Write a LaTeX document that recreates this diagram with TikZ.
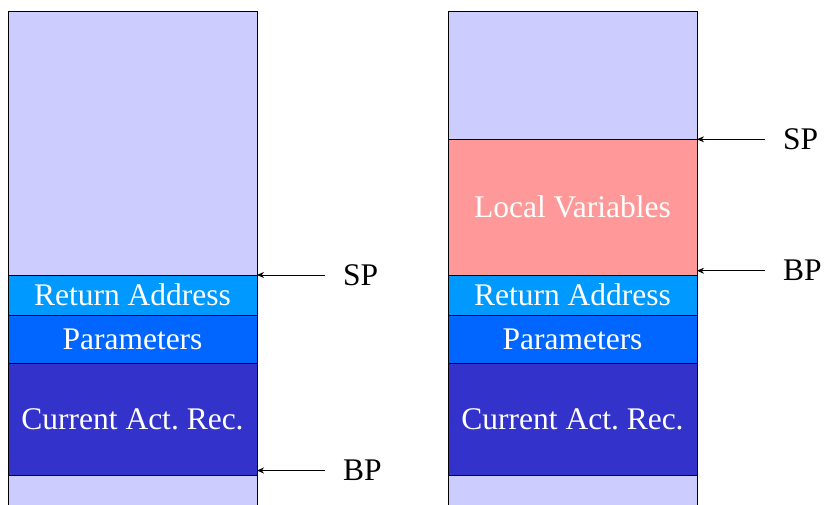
\documentclass[tikz,border=0pt]{standalone}
\usepackage{fontspec}
\setmainfont{Liberation Serif}
\usetikzlibrary{arrows.meta}
\definecolor{lav}{HTML}{CCCCFF}
\definecolor{rablue}{HTML}{0099FF}
\definecolor{parblue}{HTML}{0066FF}
\definecolor{carblue}{HTML}{3333CC}
\definecolor{lvred}{HTML}{FF9999}
\tikzset{
  cell/.style={draw=black, line width=0.8pt, anchor=north west, inner sep=0pt, outer sep=0pt,
    minimum width=249pt, text=white, font=\fontsize{31.5}{36}\selectfont},
  ptrlabel/.style={anchor=west, inner sep=0pt, font=\fontsize{31.5}{36}\selectfont},
  ptr/.style={line width=0.9pt, -{Stealth[length=7pt,width=6pt]}, shorten <=18pt}
}
\newcommand{\dn}[1]{\raisebox{-2.5pt}{#1}}
\begin{document}
\begin{tikzpicture}[x=1pt,y=-1pt]
\useasboundingbox (0,0) rectangle (826,504);
\clip (0,0) rectangle (826,504);
% left stack
\node[cell, fill=lav, minimum height=264pt] (free1) at (8,11) {};
\node[cell, fill=rablue, minimum height=40pt] (ra1) at (8,275) {\dn{Return Address}};
\node[cell, fill=parblue, minimum height=48pt] (par1) at (8,315) {\dn{Parameters}};
\node[cell, fill=carblue, minimum height=112pt] (car1) at (8,363) {\dn{Current Act.\ Rec.}};
\node[cell, fill=lav, minimum height=60pt] (old1) at (8,475) {};
% right stack
\node[cell, fill=lav, minimum height=128pt] (free2) at (448,11) {};
\node[cell, fill=lvred, minimum height=136pt] (lv2) at (448,139) {\dn{Local Variables}};
\node[cell, fill=rablue, minimum height=40pt] (ra2) at (448,275) {\dn{Return Address}};
\node[cell, fill=parblue, minimum height=48pt] (par2) at (448,315) {\dn{Parameters}};
\node[cell, fill=carblue, minimum height=112pt] (car2) at (448,363) {\dn{Current Act.\ Rec.}};
\node[cell, fill=lav, minimum height=60pt] (old2) at (448,475) {};
% pointer labels
\node[ptrlabel] (sp1) at (343,275) {SP};
\node[ptrlabel] (bp1) at (343,470.5) {BP};
\node[ptrlabel] (sp2) at (783,139.3) {SP};
\node[ptrlabel] (bp2) at (783,270.7) {BP};
% arrows
\draw[ptr] (sp1.west) -- (sp1.west -| ra1.east);
\draw[ptr] (bp1.west) -- (bp1.west -| car1.east);
\draw[ptr] (sp2.west) -- (sp2.west -| lv2.east);
\draw[ptr] (bp2.west) -- (bp2.west -| lv2.east);
\end{tikzpicture}
\end{document}
